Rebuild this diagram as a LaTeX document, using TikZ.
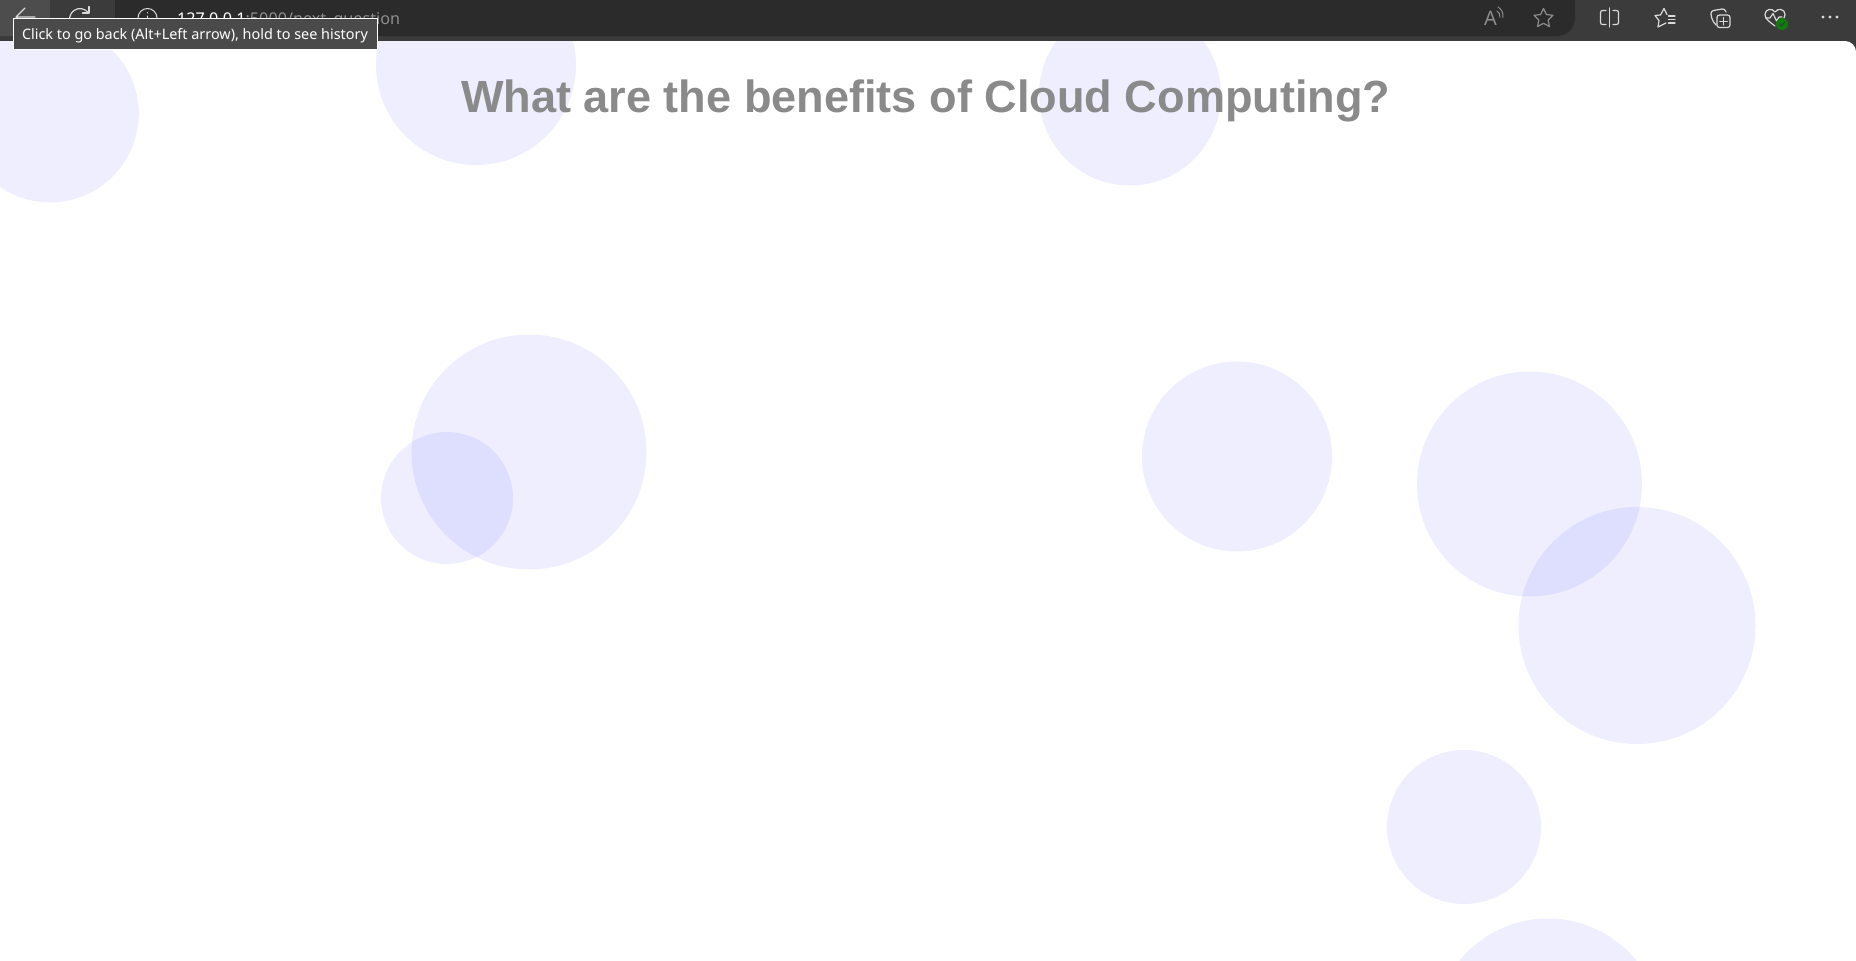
\documentclass[tikz,border=0pt]{standalone}
\usepackage{fontspec}
\setmainfont{Liberation Sans}
\newfontfamily\uifont{Noto Sans}
\definecolor{barbg}{HTML}{3B3B3B}
\definecolor{addrbg}{HTML}{2B2B2B}
\definecolor{hoverbg}{HTML}{4D4D4D}
\definecolor{tipbg}{HTML}{4A4A4A}
\definecolor{titlegrey}{HTML}{8A8A8A}
\definecolor{urlgrey}{HTML}{8F8F8F}
\definecolor{iconlight}{HTML}{DADADA}
\definecolor{icondim}{HTML}{8C8C8C}
\definecolor{okgreen}{HTML}{107C10}
\tikzset{
  bubble/.style={fill={rgb,255:red,0;green,0;blue,255},fill opacity=.067,draw=none},
  icon/.style={draw=iconlight,line width=1.2pt,line join=round,line cap=round},
  dimicon/.style={draw=icondim,line width=1.2pt,line join=round,line cap=round},
  txt/.style={inner sep=0pt,outer sep=0pt,anchor=base west}
}
\begin{document}
\begin{tikzpicture}[x=1pt,y=-1pt]
\useasboundingbox (0,0) rectangle (1856,961);
\fill[barbg] (0,0) rectangle (1856,961);
\begin{scope}
  \clip (0,41) -- (1845,41) arc[start angle=-90,end angle=0,radius=11] -- (1856,961) -- (0,961) -- cycle;
  \fill[white] (0,41) rectangle (1856,961);
  \fill[bubble] (50,113.6) circle[radius=88.8];
  \fill[bubble] (476,65) circle[radius=100];
  \fill[bubble] (1130,94.5) circle[radius=91];
  \fill[bubble] (529,452) circle[radius=117.5];
  \fill[bubble] (447,498) circle[radius=66];
  \fill[bubble] (1237,456.5) circle[radius=95];
  \fill[bubble] (1529.5,484) circle[radius=112.5];
  \fill[bubble] (1637,625.5) circle[radius=118.5];
  \fill[bubble] (1464,827) circle[radius=77];
  \fill[bubble] (1548,1032.5) circle[radius=114];
\end{scope}
\node[txt,text=titlegrey] (title) at (461,112) {\fontsize{45.1}{50}\selectfont\bfseries What are the benefits of Cloud Computing?};
% address bar and hover button
\fill[addrbg,rounded corners=18pt] (115,-20) rectangle (1575,36);
\fill[hoverbg,rounded corners=6pt] (-10,-10) rectangle (50,36);
\node[txt,text=white] (urlhost) at (177,24.5) {\uifont\fontsize{16.2}{20}\selectfont 127.0.0.1};
\node[txt,text=urlgrey,anchor=base west] (urlpath) at (urlhost.base east) {\uifont\fontsize{16.2}{20}\selectfont :5000/next\_question};
% back, reload, info
\draw[icon] (16,17) -- (35,17) (25,8) -- (16,17) -- (25,26);
\draw[icon] (88.5,13) arc[start angle=-35,end angle=-320,radius=10.4];
\draw[icon] (89,6.5) -- (89,13) -- (82.5,13);
\draw[icon,line width=1pt] (147.5,18) circle[radius=9.5];
\draw[icon,line width=1pt] (147.5,16) -- (147.5,23) (147.5,12.5) -- (147.5,13);
% read aloud
\node[txt,text=icondim] (readA) at (1484,25) {\uifont\fontsize{20}{22}\selectfont A};
\draw[dimicon,line width=1pt] (1497,11) arc[start angle=-60,end angle=10,radius=6];
\draw[dimicon,line width=1pt] (1498,7) arc[start angle=-60,end angle=10,radius=10];
% favourite star
\draw[dimicon] (1543.5,8.5) -- (1546.4,14.5) -- (1553,15.3) -- (1548.2,20) -- (1549.4,26.5) -- (1543.5,23.3) -- (1537.6,26.5) -- (1538.8,20) -- (1534,15.3) -- (1540.6,14.5) -- cycle;
% split screen
\draw[icon,rounded corners=2pt] (1606,10.5) -- (1600.5,10.5) -- (1600.5,24.5) -- (1606,24.5);
\draw[icon,rounded corners=2pt] (1613,10.5) -- (1618.5,10.5) -- (1618.5,24.5) -- (1613,24.5);
\draw[icon] (1609.5,8) -- (1609.5,27);
% favourites
\draw[icon] (1667,14.5) -- (1664,8.5) -- (1660.5,15) -- (1655,15.5) -- (1659,20.5) -- (1658,27) -- (1666,23);
\draw[icon] (1668.5,16) -- (1675,16) (1668.5,19.5) -- (1675,19.5) (1668.5,23) -- (1675,23);
% collections
\draw[icon,rounded corners=3pt] (1726,12) -- (1725,8.5) -- (1710.5,11) -- (1712,20) -- (1716,25);
\draw[icon,fill=barbg,rounded corners=2.5pt] (1717,15) rectangle (1730,27.5);
\draw[icon] (1723.5,17.5) -- (1723.5,25) (1719.8,21.2) -- (1727.2,21.2);
% health heart
\draw[icon] (1775,26) .. controls (1768,21) and (1765,18) .. (1765,14.5) .. controls (1765,9) and (1772,7.5) .. (1775,12) .. controls (1778,7.5) and (1785,9) .. (1785,14.5) .. controls (1785,16) and (1784.5,17) .. (1784,18);
\draw[icon] (1765.5,18) -- (1770,18) -- (1773,13.5) -- (1776.5,21) -- (1779,17) -- (1782,17);
\fill[okgreen] (1782,24) circle[radius=6];
\draw[draw=barbg,line width=1pt,line cap=round] (1779.5,24) -- (1781.3,26) -- (1784.8,22);
% menu dots
\fill[iconlight] (1823,17) circle[radius=1.6] (1830,17) circle[radius=1.6] (1837,17) circle[radius=1.6];
% tooltip
\node[draw=white,line width=1pt,fill=tipbg,minimum width=363.5pt,minimum height=30.5pt,anchor=north west,inner sep=0pt] (tipbox) at (13,18.3) {};
\node[txt,text=white] (tiptext) at (22,39) {\uifont\fontsize{14.4}{18}\selectfont Click to go back (Alt+Left arrow), hold to see history};
\end{tikzpicture}
\end{document}
